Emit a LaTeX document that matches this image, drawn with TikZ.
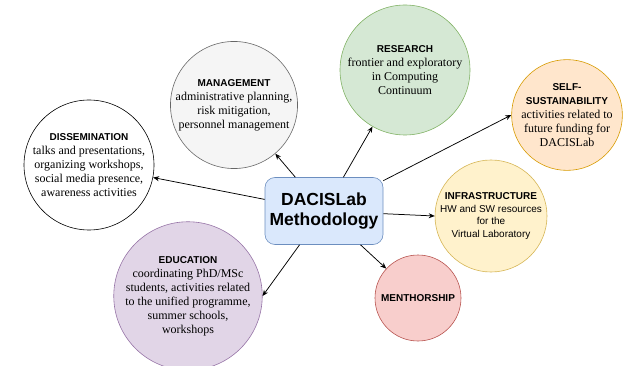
\documentclass[tikz,border=0pt]{standalone}
\usepackage{fontspec}
\setmainfont{Liberation Serif}
\setsansfont{Liberation Sans}
\usetikzlibrary{arrows.meta}

\definecolor{hubfill}{HTML}{DAE8FC}\definecolor{hubline}{HTML}{6C8EBF}
\definecolor{mgmfill}{HTML}{F5F5F5}\definecolor{mgmline}{HTML}{666666}
\definecolor{resfill}{HTML}{D5E8D4}\definecolor{resline}{HTML}{82B366}
\definecolor{susfill}{HTML}{FFE6CC}\definecolor{susline}{HTML}{D79B00}
\definecolor{infill}{HTML}{FFF2CC}\definecolor{inline}{HTML}{D6B656}
\definecolor{menfill}{HTML}{F8CECC}\definecolor{menline}{HTML}{B85450}
\definecolor{edufill}{HTML}{E1D5E7}\definecolor{eduline}{HTML}{9673A6}

\newcommand{\hd}{\fontsize{10}{14}\sffamily\bfseries\selectfont}

\begin{document}
\begin{tikzpicture}[x=1pt, y=-1pt, >={Stealth[length=6pt,width=5pt]},
	topic/.style={circle, draw, line width=0.6pt, inner sep=0pt, align=center, font=\fontsize{12}{14}\selectfont},
	hub/.style={rectangle, rounded corners=10pt, draw=hubline, fill=hubfill, line width=0.6pt, align=center,
		minimum width=118pt, minimum height=67pt, font=\fontsize{17.5}{20}\sffamily\bfseries\selectfont}]
	\useasboundingbox (0,0) rectangle (629,366);

	% Centre
	\node [hub] (meth) at (324,211) {DACISLab\\Methodology};

	% Topics {diss, mgmt, res, sust, infra, ment, edu}
	\node [topic, minimum size=130pt] (diss) at (89,165)
		{{\hd DISSEMINATION}\\talks and presentations,\\organizing workshops,\\social media presence,\\awareness activities};
	\node [topic, minimum size=124pt, draw=mgmline, fill=mgmfill] (mgmt) at (234,105)
		{{\hd MANAGEMENT}\\administrative planning,\\risk mitigation,\\personnel management};
	\node [topic, minimum size=130pt, draw=resline, fill=resfill] (res) at (405,70)
		{{\hd RESEARCH}\\frontier and exploratory\\in Computing\\Continuum};
	\node [topic, minimum size=110pt, draw=susline, fill=susfill] (sust) at (567,115)
		{{\hd SELF-}\\{\hd SUSTAINABILITY}\\activities related to\\future funding for\\DACISLab};
	\node [topic, minimum size=112pt, draw=inline, fill=infill, font=\fontsize{10}{12.5}\sffamily\selectfont] (infra) at (491,216)
		{{\bfseries INFRASTRUCTURE}\\HW and SW resources\\for the\\Virtual Laboratory};
	\node [topic, minimum size=86pt, draw=menline, fill=menfill] (ment) at (418,298)
		{{\hd MENTHORSHIP}};
	\node [topic, minimum size=140pt, draw=eduline, fill=edufill] (edu) at (188,296)
		{{\hd EDUCATION}\\coordinating PhD/MSc\\students, activities related\\to the unified programme,\\summer schools,\\workshops};

	% Paths
	\path [->, line width=0.75pt] (meth) edge (diss);
	\path [->, line width=0.75pt] (meth) edge (mgmt);
	\path [->, line width=0.75pt] (meth) edge (res);
	\path [->, line width=0.75pt] (meth) edge (sust.west);
	\path [->, line width=0.75pt] (meth) edge (infra.west);
	\path [->, line width=0.75pt] (meth) edge (ment);
	\path [->, line width=0.75pt] (meth) edge (edu.east);

\end{tikzpicture}
\end{document}
